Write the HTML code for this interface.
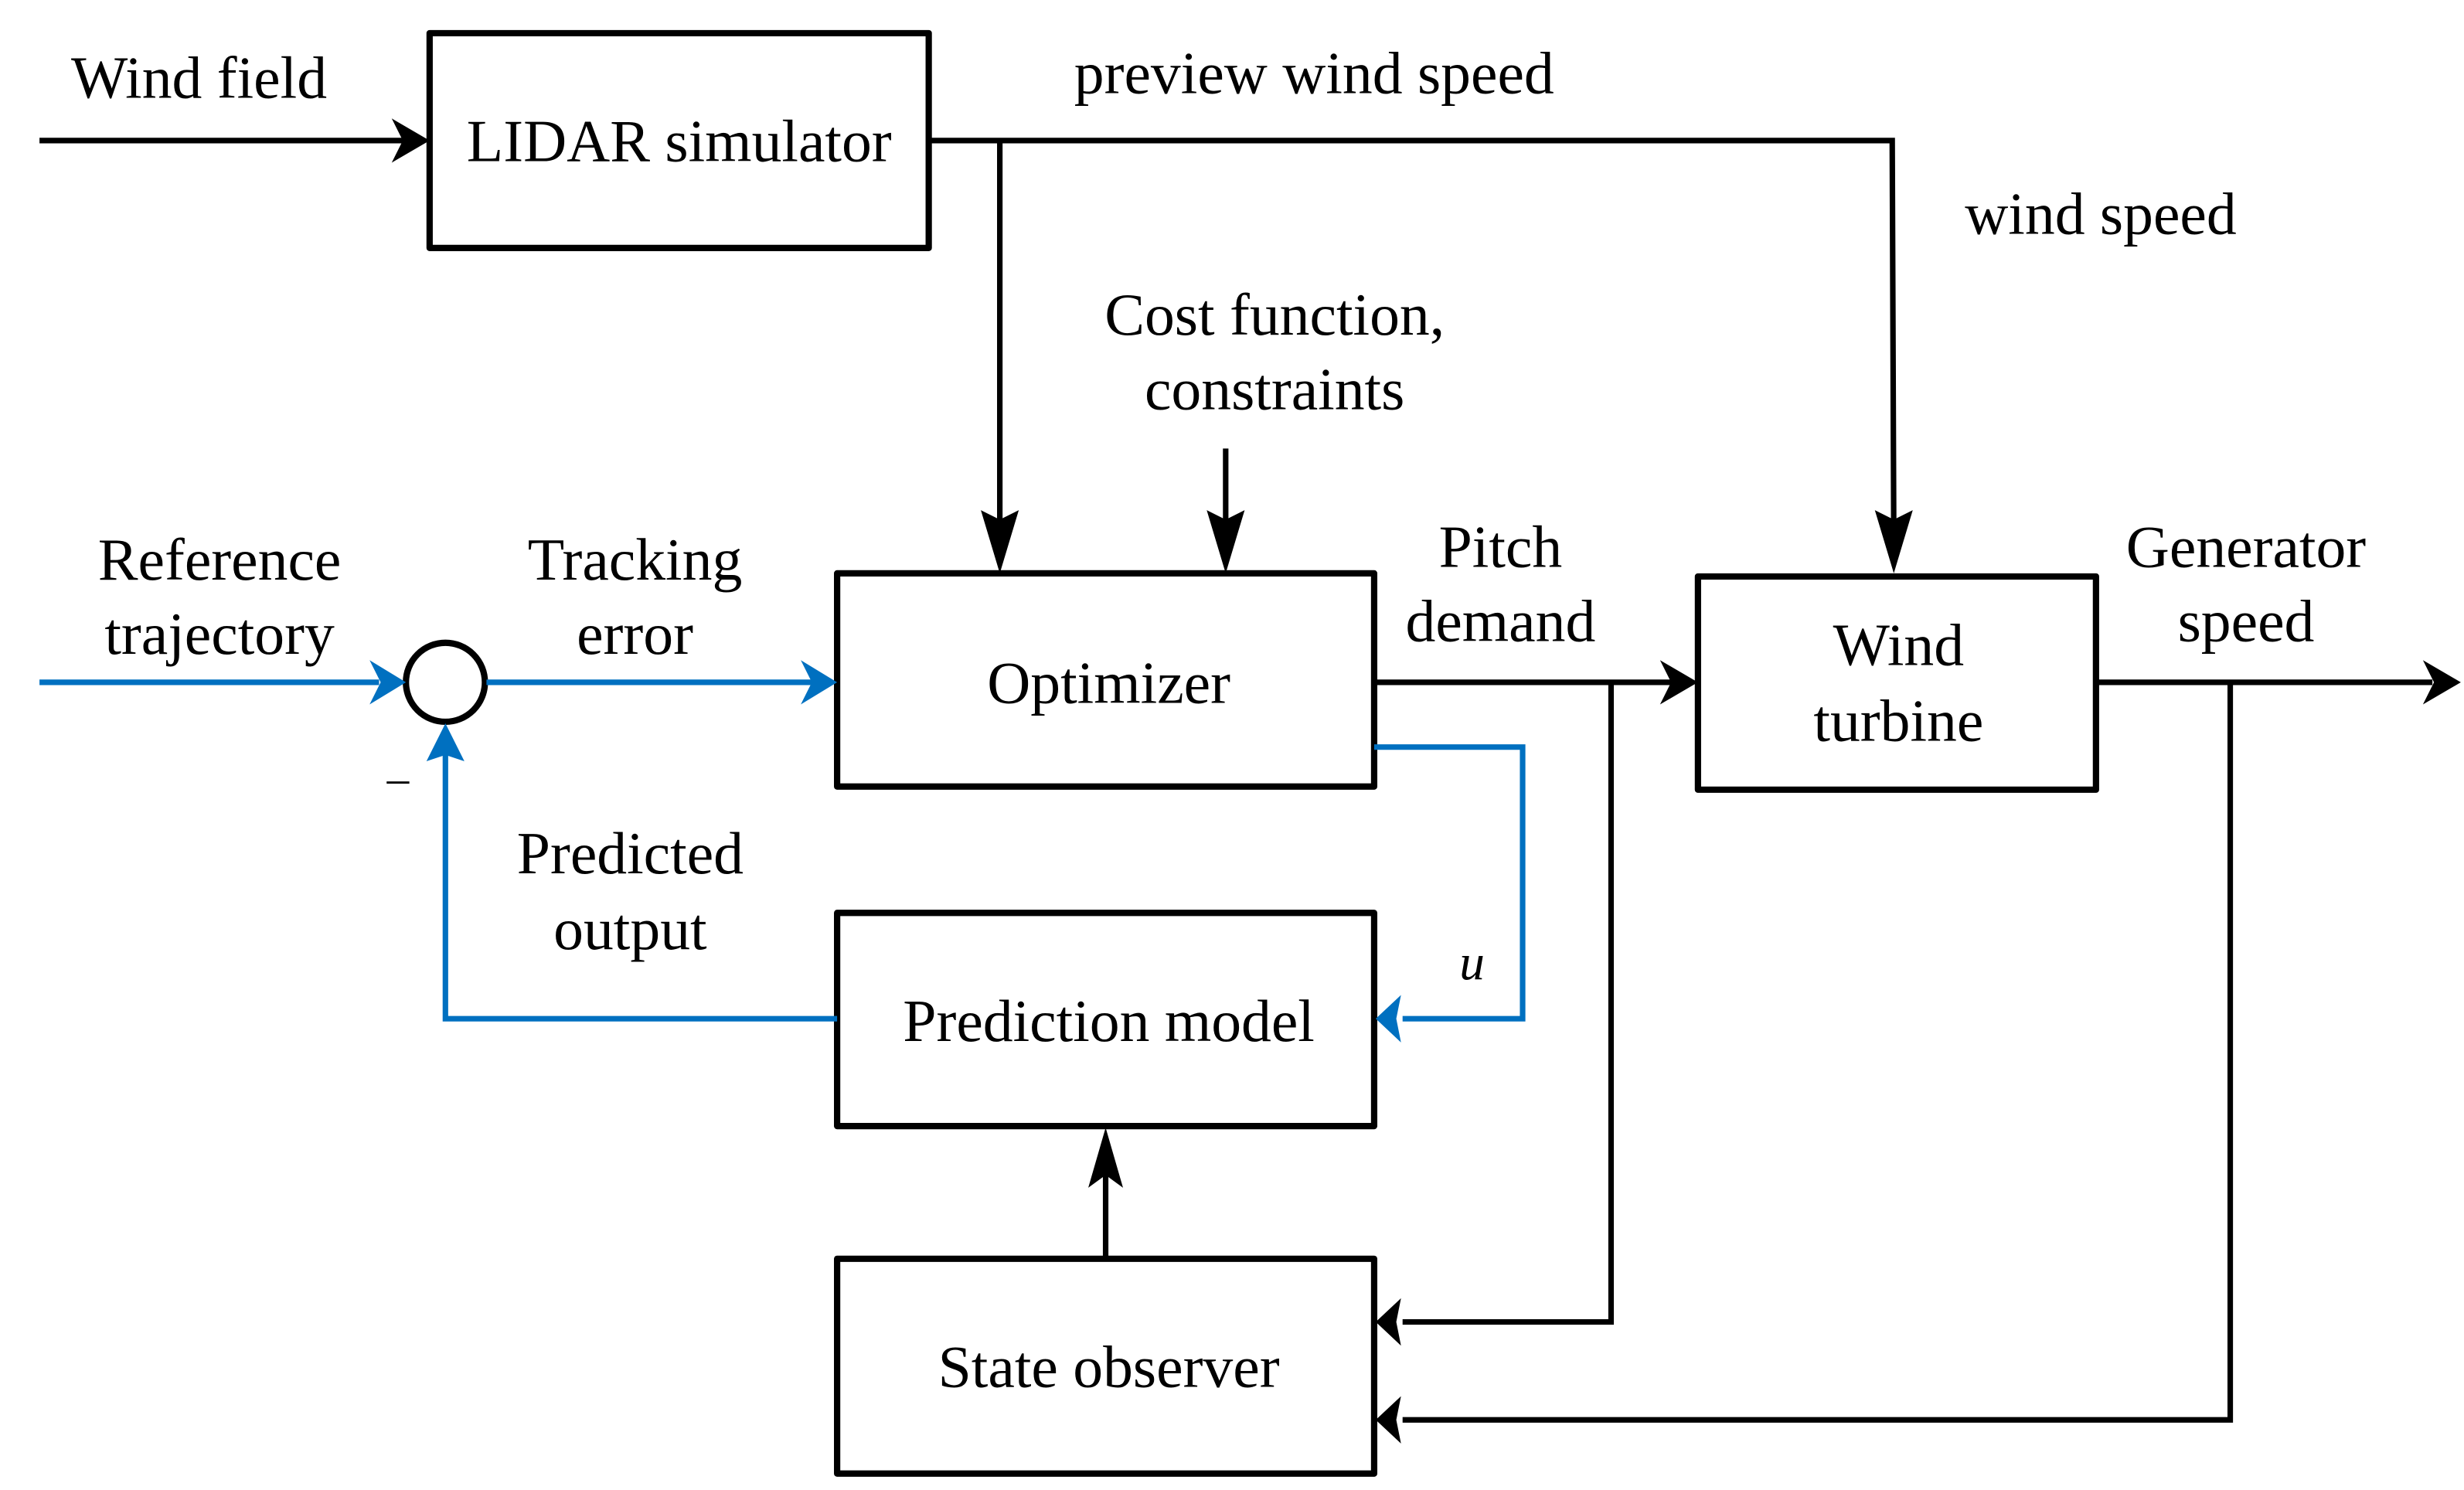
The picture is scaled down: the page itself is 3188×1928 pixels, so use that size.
<!DOCTYPE html>
<html><head><meta charset="utf-8"><style>
html,body{margin:0;padding:0;background:#fff;}
svg{display:block;}
text{font-family:"Liberation Serif",serif;font-size:38px;fill:#000;}
</style></head><body>
<svg width="3188" height="1928" viewBox="0 0 1560 943.4" preserveAspectRatio="none" xmlns="http://www.w3.org/2000/svg">
<g fill="none" stroke="#000" stroke-width="4" stroke-linejoin="round" stroke-linecap="round">
<rect x="272" y="21" width="316" height="136"/>
<rect x="530" y="363" width="340" height="135"/>
<rect x="1075" y="365" width="252" height="135"/>
<rect x="530" y="578" width="340" height="135"/>
<rect x="530" y="797" width="340" height="136"/>
<circle cx="282" cy="432" r="25"/>
</g>
<g fill="none" stroke="#000" stroke-width="3.5">
<line x1="25" y1="89" x2="258" y2="89"/>
<polyline points="588,89 1198,89 1199,345"/>
<line x1="633" y1="89" x2="633" y2="345"/>
<line x1="776" y1="284" x2="776" y2="345"/>
<line x1="870" y1="432" x2="1060" y2="432"/>
<polyline points="1020,432 1020,837 888,837"/>
<line x1="1327" y1="432" x2="1540" y2="432"/>
<polyline points="1412,432 1412,899 888,899"/>
<line x1="700" y1="797" x2="700" y2="730"/>
</g>
<g fill="#000">
<polygon points="272,89 248,75 255,89 248,103"/>
<polygon points="633,363 621,323 633,329 645,323"/>
<polygon points="776,363 764,323 776,329 788,323"/>
<polygon points="1199,363 1187,323 1199,329 1211,323"/>
<polygon points="1075,432 1051,418 1058,432 1051,446"/>
<polygon points="1558,432 1534,418 1541,432 1534,446"/>
<polygon points="871,837 887,822 884,837 887,852"/>
<polygon points="871,899 887,884 884,899 887,914"/>
<polygon points="700,714 689,752 700,744 711,752"/>
</g>
<g fill="none" stroke="#0070C0" stroke-width="3.5">
<line x1="25" y1="432" x2="240" y2="432"/>
<line x1="308" y1="432" x2="515" y2="432"/>
<polyline points="530,645 282,645 282,475"/>
<polyline points="870,473 964,473 964,645 888,645"/>
</g>
<g fill="#0070C0">
<polygon points="257,432 234,418 241,432 234,446"/>
<polygon points="530,432 507,418 514,432 507,446"/>
<polygon points="282,458 270,482 282,478 294,482"/>
<polygon points="871,645 887,630 884,645 887,660"/>
</g>
<text x="45" y="62">Wind field</text>
<text x="430" y="102" text-anchor="middle">LIDAR simulator</text>
<text x="832" y="59" text-anchor="middle">preview wind speed</text>
<text x="1330" y="148" text-anchor="middle">wind speed</text>
<text x="807" y="212" text-anchor="middle">Cost function,</text>
<text x="807" y="259" text-anchor="middle">constraints</text>
<text x="139" y="367" text-anchor="middle">Reference</text>
<text x="139" y="414" text-anchor="middle">trajectory</text>
<text x="402" y="367" text-anchor="middle">Tracking</text>
<text x="402" y="414" text-anchor="middle">error</text>
<text x="702" y="445" text-anchor="middle">Optimizer</text>
<text x="950" y="359" text-anchor="middle">Pitch</text>
<text x="950" y="406" text-anchor="middle">demand</text>
<text x="1202" y="421" text-anchor="middle">Wind</text>
<text x="1202" y="469" text-anchor="middle">turbine</text>
<text x="1422" y="359" text-anchor="middle">Generator</text>
<text x="1422" y="406" text-anchor="middle">speed</text>
<text x="252" y="502" text-anchor="middle" style="font-size:28px">–</text>
<text x="399" y="553" text-anchor="middle">Predicted</text>
<text x="399" y="601" text-anchor="middle">output</text>
<text x="932" y="620" text-anchor="middle" style="font-style:italic;font-size:32px">u</text>
<text x="702" y="659" text-anchor="middle">Prediction model</text>
<text x="702" y="878" text-anchor="middle">State observer</text>
</svg>
</body></html>
